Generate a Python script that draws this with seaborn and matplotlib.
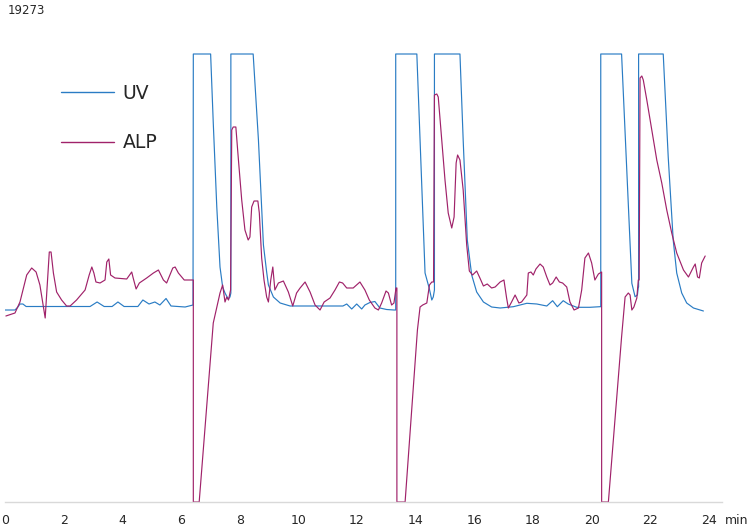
import matplotlib
matplotlib.use("Agg")
import matplotlib.pyplot as plt
import seaborn as sns
import pandas as pd

# ---------------- data (time in min, detector signal in arbitrary units) -------------
uv_time = [0.00, 0.34, 0.44, 0.51, 0.61, 0.72, 2.90, 3.14, 3.38, 3.65,
           3.85, 4.06, 4.53, 4.70, 4.91, 5.11, 5.28, 5.49, 5.66, 6.14,
           6.41, 6.42, 7.01, 7.10, 7.22, 7.33, 7.42, 7.50, 7.61, 7.67,
           7.70, 7.70, 8.46, 8.64, 8.81, 8.92, 8.98, 9.15, 9.38, 9.72,
           11.52, 11.65, 11.82, 11.99, 12.16, 12.27, 12.44, 12.61, 12.78, 13.01,
           13.26, 13.32, 13.32, 14.04, 14.32, 14.46, 14.55, 14.60, 14.64, 14.64,
           15.51, 15.62, 15.76, 15.91, 16.08, 16.31, 16.59, 16.88, 17.33, 17.79,
           18.13, 18.47, 18.67, 18.83, 19.03, 19.20, 19.49, 19.94, 20.28, 20.31,
           20.31, 21.02, 21.37, 21.48, 21.56, 21.59, 21.60, 21.60, 22.44, 22.61,
           22.78, 22.90, 23.07, 23.24, 23.47, 23.81]
uv_signal = [192, 192, 195, 198, 198, 195.5, 195.5, 200, 195.5, 195.5,
             200, 195.5, 195.5, 202, 198, 200, 197, 203.5, 196, 195,
             197, 448, 448, 379, 295, 235, 215, 209, 203, 205,
             209, 448, 448, 362, 257, 230, 217, 205, 199, 196,
             196, 198, 193, 198, 193, 197, 199.5, 200.5, 194, 192.5,
             192, 192, 448, 448, 229, 214, 202, 205, 212, 448,
             448, 362, 262, 227, 210, 200, 195, 194, 195.3, 198.7,
             198, 196, 201.3, 195.3, 201.3, 198, 194.7, 194.7, 195.3, 195.3,
             448, 448, 218.7, 205.3, 207, 215, 215, 448, 448, 345,
             262, 229, 209, 199, 194, 191]

alp_time = [0.03, 0.34, 0.51, 0.74, 0.91, 1.06, 1.19, 1.31, 1.37, 1.43,
            1.51, 1.57, 1.65, 1.76, 1.93, 2.10, 2.22, 2.44, 2.73, 2.87,
            2.96, 3.03, 3.10, 3.24, 3.41, 3.47, 3.54, 3.60, 3.75, 4.15,
            4.32, 4.37, 4.47, 4.58, 4.83, 5.06, 5.23, 5.40, 5.51, 5.72,
            5.80, 5.91, 6.11, 6.42, 6.42, 6.62, 7.10, 7.33, 7.42, 7.50,
            7.56, 7.62, 7.69, 7.73, 7.78, 7.87, 7.95, 8.07, 8.18, 8.29,
            8.35, 8.41, 8.49, 8.62, 8.67, 8.75, 8.83, 8.92, 8.98, 9.06,
            9.13, 9.20, 9.32, 9.49, 9.66, 9.81, 9.94, 10.06, 10.23, 10.40,
            10.57, 10.74, 10.88, 11.08, 11.25, 11.40, 11.51, 11.65, 11.87, 12.10,
            12.27, 12.42, 12.61, 12.73, 12.84, 12.99, 13.07, 13.18, 13.26, 13.33,
            13.36, 13.36, 13.64, 14.06, 14.15, 14.24, 14.38, 14.47, 14.55, 14.61,
            14.64, 14.72, 14.77, 14.89, 15.00, 15.11, 15.23, 15.31, 15.38, 15.43,
            15.51, 15.62, 15.74, 15.83, 15.94, 16.08, 16.19, 16.31, 16.44, 16.59,
            16.71, 16.88, 17.01, 17.10, 17.16, 17.27, 17.39, 17.52, 17.61, 17.79,
            17.84, 17.93, 18.01, 18.10, 18.24, 18.35, 18.47, 18.58, 18.67, 18.79,
            18.90, 19.01, 19.15, 19.26, 19.40, 19.55, 19.66, 19.77, 19.89, 20.00,
            20.11, 20.23, 20.34, 20.34, 20.57, 21.02, 21.14, 21.25, 21.31, 21.37,
            21.44, 21.54, 21.59, 21.62, 21.65, 21.71, 21.76, 21.88, 22.05, 22.22,
            22.39, 22.56, 22.73, 22.90, 23.13, 23.30, 23.47, 23.53, 23.61, 23.67,
            23.75, 23.87]
alp_signal = [186, 189, 200, 227, 234, 230, 217, 195, 184, 212,
              250, 250, 229, 210, 202, 196, 196, 202, 212, 227,
              235, 229, 220, 219, 222, 240, 243, 227, 224, 223,
              230, 224, 213, 219, 224, 229, 232, 222, 219, 234,
              235, 229, 222, 222, 0, 0, 179, 209, 217, 200,
              205, 202, 212, 372, 375, 375, 345, 302, 272, 262,
              265, 295, 301, 301, 289, 244, 222, 205, 200, 222,
              235, 212, 219, 221, 210, 196, 209, 214, 220, 210,
              197, 192, 200, 204, 212, 220, 219, 214, 214, 220,
              212, 202, 194, 192, 199, 211, 209, 197, 199, 214,
              214, 0, 0, 172, 195, 197, 199, 217, 220, 220,
              407, 408, 405, 362, 322, 289, 274, 285, 339, 347,
              342, 312, 257, 231, 227, 231, 224, 216, 218, 214,
              215, 220, 222, 204, 194, 200, 207, 199, 200, 207,
              229, 230, 227, 233, 238, 235, 225, 217, 219, 225,
              220, 219, 215, 200, 192, 194, 212, 244, 249, 239,
              222, 228, 230, 0, 0, 165, 205, 209, 207, 192,
              195, 204, 222, 222, 424, 426, 422, 402, 372, 342,
              319, 292, 269, 249, 232, 225, 235, 238, 225, 224,
              239, 246]

x_ticks = [0, 2, 4, 6, 8, 10, 12, 14, 16, 18, 20, 22, 24]
x_unit = "min"
sample_id = "19273"
series_names = ["UV", "ALP"]
series_colors = ["#2a7cc4", "#a0226a"]

# ---------------- figure ----------------
sns.set_style("white")
plt.rcParams["font.family"] = ["DejaVu Sans"]

traces = {
    series_names[0]: pd.DataFrame({"time": uv_time, "signal": uv_signal}),
    series_names[1]: pd.DataFrame({"time": alp_time, "signal": alp_signal}),
}

fig = plt.figure(figsize=(7.5, 5.27), dpi=100)
ax = fig.add_axes([5 / 750, 25 / 527, 717 / 750, 502 / 527])

for name, col in zip(series_names, series_colors):
    sns.lineplot(data=traces[name], x="time", y="signal", sort=False,
                 estimator=None, color=col, linewidth=0.85, ax=ax, label=name)

ax.set_xlim(0, 717 / 29.333)
ax.set_ylim(0, 502)
ax.set_xticks(x_ticks)
ax.set_xticklabels([str(t) for t in x_ticks], fontsize=9)
ax.set_yticks([])
ax.tick_params(axis="x", length=0, pad=9)
ax.set_xlabel("")
ax.set_ylabel("")
for s in ["top", "right", "left"]:
    ax.spines[s].set_visible(False)
ax.spines["bottom"].set_color("#d9d9d9")
ax.spines["bottom"].set_linewidth(1.0)

ax.text(24.55, -18, x_unit, fontsize=9, ha="left", va="center",
        transform=ax.transData, clip_on=False)
fig.text(8 / 750, 1 - 10 / 527, sample_id, fontsize=8.5, ha="left", va="center")

leg = ax.legend(loc="upper left", bbox_to_anchor=(61 / 750, 1 - 84 / 527),
                bbox_transform=fig.transFigure, frameon=False, fontsize=13.5,
                handlelength=2.85, handletextpad=0.45, labelspacing=1.62,
                borderpad=0, borderaxespad=0)
for h in leg.get_lines():
    h.set_linewidth(1.0)

fig.savefig("out.png", dpi=100)
